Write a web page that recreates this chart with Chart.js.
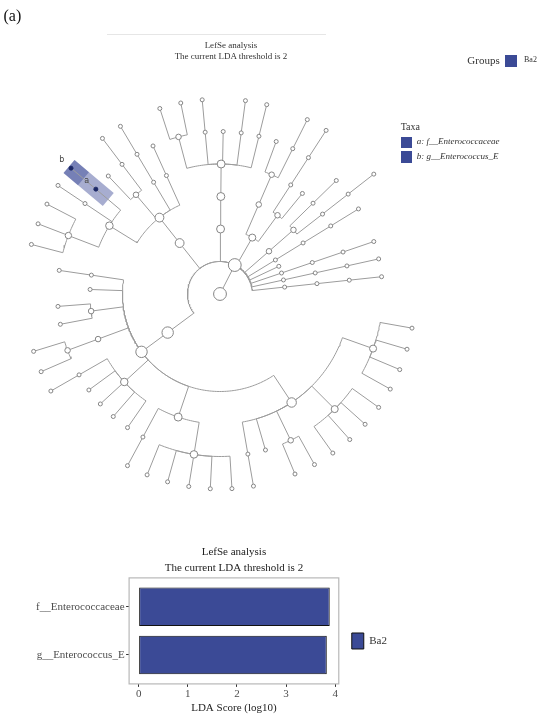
<!DOCTYPE html>
<html>
<head>
<meta charset="utf-8">
<script src="https://cdn.jsdelivr.net/npm/chart.js@4.4.3/dist/chart.umd.min.js"></script>
<style>
  body { margin: 0; width: 550px; height: 714px; overflow: hidden; background: #fff; position: relative;
         font-family: 'Liberation Serif', 'Times New Roman', serif; color: #333; }
  canvas, .t, .key { position: absolute; }
  .t { white-space: nowrap; }
  .key { background: #3b4a96; }
</style>
</head>
<body>
<canvas id="clado" width="550" height="520" style="left:0;top:0"></canvas>
<canvas id="bars" width="397" height="174" style="left:0;top:540px"></canvas>

<div class="t" style="left:3.5px;top:7.8px;font-size:16px;line-height:16px;color:#111">(a)</div>
<div style="position:absolute;left:107px;top:34px;width:219px;border-top:1px solid #e6e6e6"></div>
<div class="t" style="left:131px;width:200px;text-align:center;top:40px;font-size:9px;line-height:10.5px">LefSe analysis<br>The current LDA threshold is 2</div>
<div class="t" style="left:467.3px;top:54.6px;font-size:11px;line-height:11px">Groups</div>
<div class="key" style="left:505px;top:55px;width:12.3px;height:11.7px"></div>
<div class="t" id="groupName" style="left:524px;top:56.3px;font-size:8px;line-height:8px"></div>
<div class="t" style="left:400.7px;top:121.5px;font-size:10px;line-height:10px">Taxa</div>
<div id="taxaKeys"></div>

<script>
// Cladogram: LEfSe taxonomy tree, one Newick clade per phylum in
// counter-clockwise order. 'o' is an unmarked taxon, a and b are the biomarkers.
const phyla = [
  '(((o)))',
  '(((o)))',
  '(((o)))',
  'o',
  '(((o)))',
  '((((o)),(o)))',
  '((o,((o))),(((o),o)))',
  '((((o),(o),o,(o),(o,o))))',
  '(((o),((o)),((o),o),((b)a,(o),(o,o,o))))',
  '(((o),o,(o,o),((o,o)),((o),o,o,o,o),((o),(o,o,o,o,o)),((o),o,(o,o),(o,o,o,o),(o,o,o,o))))'
];

const biomarkers = ['a', 'b'];
const biomarkerTaxa = ['f__Enterococcaceae', 'g__Enterococcus_E'];
const groups = ['Ba2'];

// LDA bar chart
const barTaxa = ['f__Enterococcaceae', 'g__Enterococcus_E'];
const ldaScores = [3.89, 3.83];
const ldaTicks = [0, 1, 2, 3, 4];

const GROUP_COLOR = '#3b4a96';
const SERIF = "'Liberation Serif', 'Times New Roman', serif";

// Cladogram geometry: centre, ring spacing per level, leaf spacing in degrees.
const CX = 220, CY = 294, LEVEL = 32.5;
const START_ANGLE = 6.1, LEAF_STEP = 6.367;
const SHADE_HALF = 8.5; // half width of the clade highlight, px

// Legend texts from the arrays.
document.getElementById('groupName').textContent = groups[0];
biomarkers.forEach((id, i) => {
  const top = 136.7 + i * 14.3;
  const keys = document.getElementById('taxaKeys');
  keys.insertAdjacentHTML('beforeend',
    `<div class="key" style="left:400.7px;top:${top}px;width:11.6px;height:11.6px"></div>` +
    `<div class="t" style="left:416.7px;top:${top + 0.7}px;font-size:9px;line-height:9px;font-style:italic">${id}: ${biomarkerTaxa[i]}</div>`);
});

// Parse the Newick string into nodes.
function parseTree(s) {
  let i = 0;
  function node() {
    const n = { children: [], name: '' };
    if (s[i] === '(') {
      i++;
      n.children.push(node());
      while (s[i] === ',') { i++; n.children.push(node()); }
      i++;
    }
    while (i < s.length && !'(),'.includes(s[i])) n.name += s[i++];
    return n;
  }
  return node();
}

const root = parseTree('((' + phyla.join(',') + '))');

// Leaves get even angles, parents sit at the mean angle of their children.
const nodes = [];
let leafCount = 0;
function layout(n, depth, parent) {
  n.depth = depth;
  n.parent = parent;
  if (!n.children.length) {
    n.angle = START_ANGLE + leafCount++ * LEAF_STEP;
    n.leaves = 1;
  } else {
    n.children.forEach(c => layout(c, depth + 1, n));
    n.angle = n.children.reduce((s, c) => s + c.angle, 0) / n.children.length;
    n.leaves = n.children.reduce((s, c) => s + c.leaves, 0);
  }
  nodes.push(n);
}
layout(root, 0, null);

const maxDepth = Math.max(...nodes.map(n => n.depth));
const isMarker = n => biomarkers.includes(n.name);
const markers = nodes.filter(isMarker);

const rad = d => d * Math.PI / 180;
const polar = (deg, r) => ({ x: CX + r * Math.cos(rad(deg)), y: CY - r * Math.sin(rad(deg)) });

// Edges: arc on the parent ring, then radial out to the child.
const edgePts = [];
nodes.forEach(n => {
  if (!n.parent) return;
  const rp = n.parent.depth * LEVEL;
  const a0 = n.parent.angle, a1 = n.angle;
  const steps = Math.max(1, Math.ceil(Math.abs(a1 - a0)));
  for (let k = 0; k <= steps; k++) edgePts.push(polar(a0 + (a1 - a0) * k / steps, rp));
  edgePts.push(polar(a1, n.depth * LEVEL));
  edgePts.push({ x: 0, y: null });
});

// Shaded clade bands and their letters.
const cladeShade = {
  id: 'cladeShade',
  beforeDatasetsDraw(chart) {
    const { ctx, scales: { x, y } } = chart;
    const outer = (maxDepth + 0.08) * LEVEL;
    ctx.save();
    ctx.fillStyle = GROUP_COLOR;
    ctx.globalAlpha = 0.45;
    markers.forEach(n => {
      const inner = (n.depth - 0.5) * LEVEL;
      const t = rad(n.angle);
      const px = Math.sin(t) * SHADE_HALF, py = Math.cos(t) * SHADE_HALF;
      const a = polar(n.angle, inner), b = polar(n.angle, outer);
      const corners = [
        [a.x + px, a.y + py], [b.x + px, b.y + py],
        [b.x - px, b.y - py], [a.x - px, a.y - py]
      ];
      ctx.beginPath();
      corners.forEach(([cx, cy]) => ctx.lineTo(x.getPixelForValue(cx), y.getPixelForValue(cy)));
      ctx.closePath();
      ctx.fill();
    });
    ctx.restore();
  },
  afterDatasetsDraw(chart) {
    const { ctx, scales: { x, y } } = chart;
    ctx.save();
    ctx.font = "8px 'DejaVu Sans', sans-serif";
    ctx.fillStyle = '#444';
    ctx.textAlign = 'center';
    ctx.textBaseline = 'middle';
    markers.forEach(n => {
      const p = polar(n.angle, n.depth * LEVEL + 12);
      ctx.fillText(n.name, x.getPixelForValue(p.x), y.getPixelForValue(p.y));
    });
    ctx.restore();
  }
};

new Chart(document.getElementById('clado'), {
  type: 'scatter',
  data: {
    datasets: [{
      data: nodes.map(n => polar(n.angle, n.depth * LEVEL)),
      pointRadius: nodes.map(n => isMarker(n) ? 2 : 2 + 1.1 * Math.log(n.leaves)),
      pointBackgroundColor: nodes.map(n => isMarker(n) ? '#1c2866' : '#fff'),
      pointBorderColor: nodes.map(n => isMarker(n) ? '#1c2866' : '#858585'),
      pointBorderWidth: 1
    }, {
      data: edgePts,
      showLine: true,
      pointRadius: 0,
      borderColor: '#9c9c9c',
      borderWidth: 1
    }]
  },
  options: {
    responsive: false,
    animation: false,
    events: [],
    layout: { padding: 0, autoPadding: false },
    plugins: { legend: { display: false }, tooltip: { enabled: false } },
    scales: {
      x: { type: 'linear', min: 0, max: 550, display: false },
      y: { type: 'linear', min: 0, max: 520, reverse: true, display: false }
    }
  },
  plugins: [cladeShade]
});

// Grey panel frame round the bar chart area.
const panelBorder = {
  id: 'panelBorder',
  afterDatasetsDraw(chart) {
    const { ctx, chartArea: a } = chart;
    ctx.save();
    ctx.strokeStyle = '#b8b8b8';
    ctx.lineWidth = 1.2;
    ctx.strokeRect(a.left, a.top, a.width, a.height);
    ctx.restore();
  }
};

const tickGrid = { offset: false, drawOnChartArea: false, drawTicks: true, tickLength: 3, tickColor: '#333', lineWidth: 1 };

new Chart(document.getElementById('bars'), {
  type: 'bar',
  data: {
    datasets: [{
      label: groups[0],
      data: ldaScores.map((v, i) => ({ x: v, y: i + 1 })),
      backgroundColor: GROUP_COLOR,
      borderColor: '#111',
      borderWidth: 1,
      borderSkipped: false,
      barPercentage: 0.8,
      categoryPercentage: 1
    }]
  },
  options: {
    indexAxis: 'y',
    responsive: false,
    animation: false,
    events: [],
    layout: { padding: 0 },
    plugins: {
      tooltip: { enabled: false },
      title: {
        display: true,
        fullSize: false,
        text: ['LefSe analysis', 'The current LDA threshold is 2'],
        color: '#222',
        font: { family: SERIF, size: 11, weight: 'normal', lineHeight: 1.427 },
        padding: { top: 4.5, bottom: 2 }
      },
      legend: {
        position: 'right',
        fullSize: false,
        title: { display: true, text: '', font: { size: 12, lineHeight: 1.2 }, padding: 2.9 },
        labels: {
          boxWidth: 12,
          boxHeight: 16,
          padding: 13,
          color: '#333',
          font: { family: SERIF, size: 11 }
        }
      }
    },
    scales: {
      x: {
        type: 'linear',
        offset: false,
        min: -0.194,
        max: 4.074,
        afterBuildTicks: s => { s.ticks = ldaTicks.map(value => ({ value })); },
        afterFit: s => { s.height = 30.1; },
        grid: tickGrid,
        border: { display: false },
        ticks: { color: '#4d4d4d', padding: 0.9, font: { family: SERIF, size: 11 } },
        title: {
          display: true,
          text: 'LDA Score (log10)',
          color: '#222',
          font: { family: SERIF, size: 11, lineHeight: 1 },
          padding: { top: 0, bottom: 0.1 }
        }
      },
      y: {
        type: 'linear',
        offset: false,
        reverse: true,
        min: 0.4,
        max: 2.6,
        afterBuildTicks: s => { s.ticks = barTaxa.map((t, i) => ({ value: i + 1 })); },
        afterFit: s => { s.width = 129.1; },
        grid: tickGrid,
        border: { display: false },
        ticks: {
          color: '#4d4d4d',
          padding: 1.5,
          font: { family: SERIF, size: 11 },
          callback: v => barTaxa[v - 1]
        }
      }
    }
  },
  plugins: [panelBorder]
});
</script>
</body>
</html>
